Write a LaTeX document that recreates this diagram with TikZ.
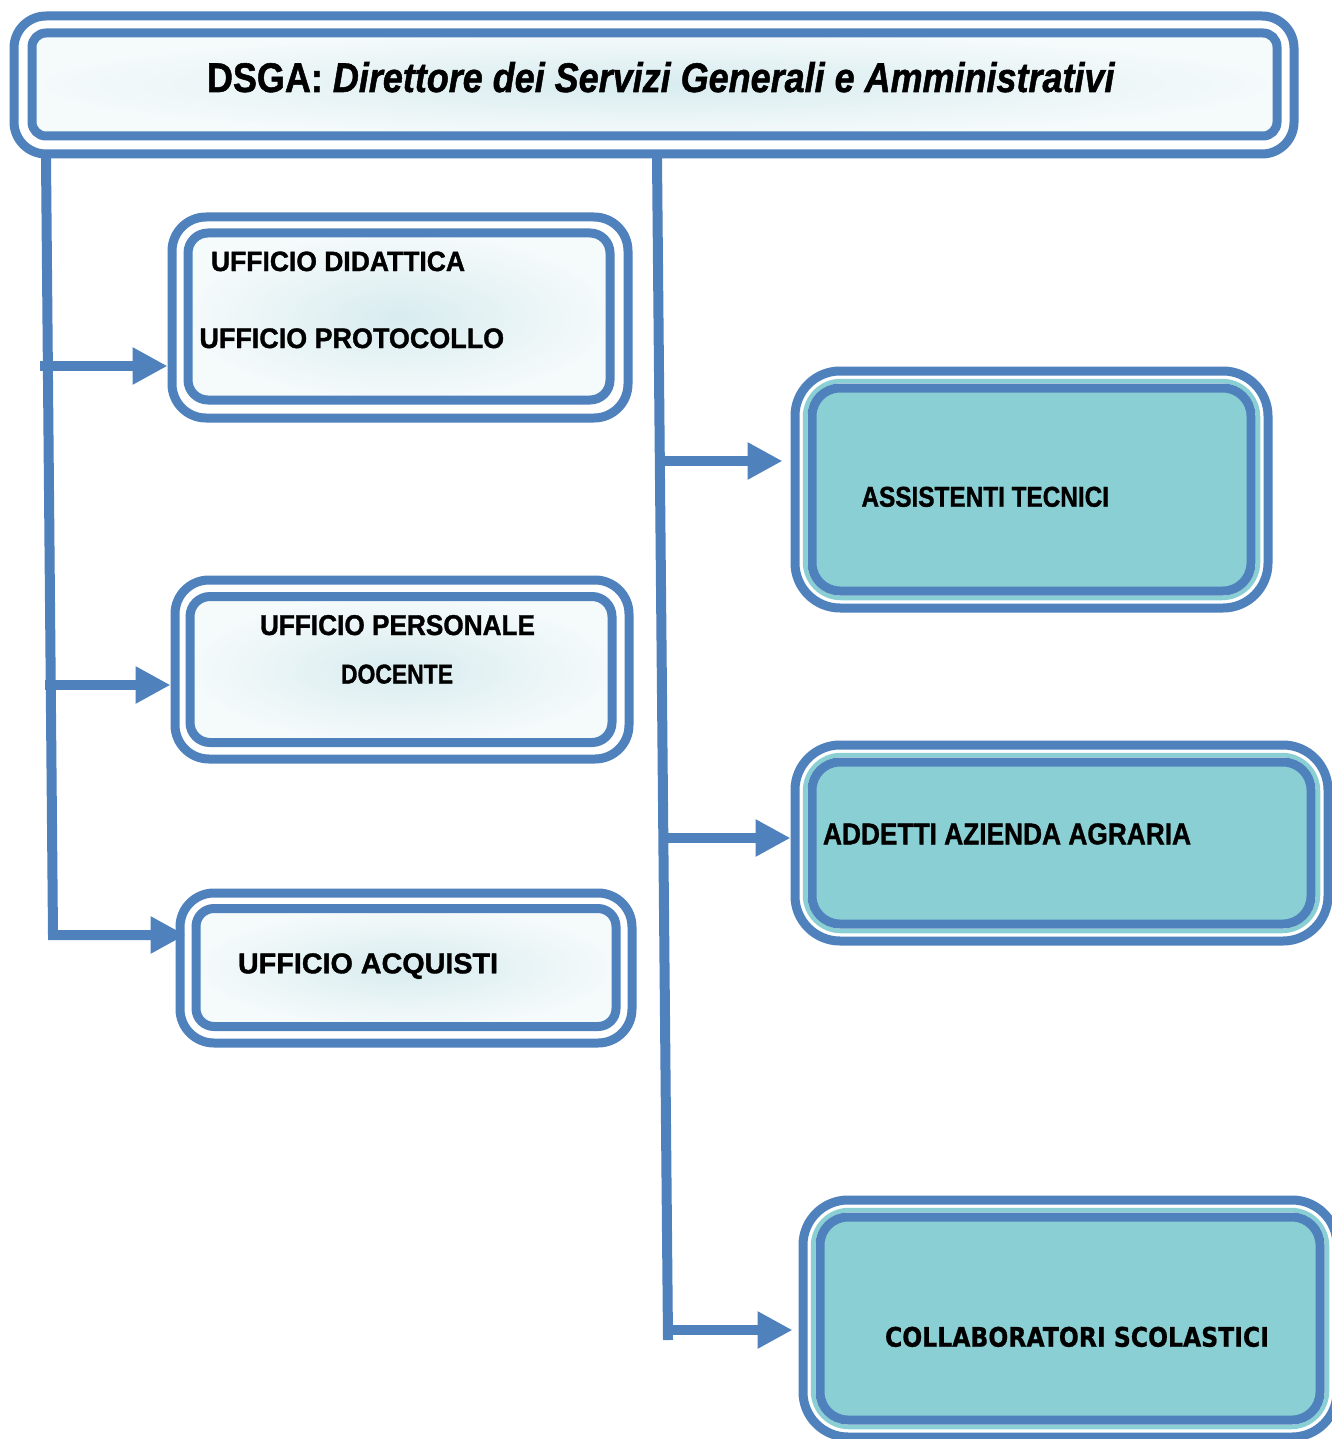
\documentclass[tikz,border=0pt]{standalone}
\usepackage{fontspec}
\setmainfont{Liberation Sans}[BoldFeatures={FakeBold=1.3},BoldItalicFeatures={FakeBold=1.3}]
\newfontfamily\verd{DejaVu Sans}[BoldFeatures={FakeBold=0.8}]
\usetikzlibrary{arrows.meta,calc}
\definecolor{bl}{HTML}{4F81BD}
\definecolor{tl}{HTML}{8ACFD3}
\definecolor{gin}{HTML}{D8ECEF}
\definecolor{gout}{HTML}{F5FAFB}
\tikzset{
  outerbox/.style={draw=bl, line width=9pt, rounded corners=#1, inner sep=0pt},
  innerbox/.style={draw=bl, line width=9pt, rounded corners=#1, inner sep=0pt, inner color=gin, outer color=gout},
  tealbox/.style={draw=bl, line width=9pt, rounded corners=#1, inner sep=0pt, fill=tl},
  tealring/.style={draw=tl, line width=4.5pt, rounded corners=#1, inner sep=0pt},
  lbl/.style={inner sep=0pt, outer sep=0pt, anchor=base west, font=\bfseries},
  ln/.style={draw=bl, line width=10pt},
  arr/.style={draw=bl, line width=10pt, -{Triangle[length=35pt,width=35pt]}}
}
\begin{document}
\begin{tikzpicture}[x=1pt,y=-1pt]
\useasboundingbox[fill=white] (0,0) rectangle (1332,1439);

% top box
\node[outerbox=32, minimum width=1280, minimum height=138] (top) at (654,85) {};
\node[innerbox=14, minimum width=1245, minimum height=103] (topin) at (654.5,84.5) {};
\node[lbl] (ttop) at (207,92) {\resizebox{908pt}{30pt}{DSGA: \textit{Direttore dei Servizi Generali e Amministrativi}}};

% left boxes
\node[outerbox=34, minimum width=456, minimum height=201] (did) at (400,317.5) {};
\node[innerbox=20, minimum width=422, minimum height=167] (didin) at (399,316.5) {};
\node[lbl] (t1) at (211,271) {\resizebox{254pt}{19.5pt}{UFFICIO DIDATTICA}};
\node[lbl] (t2) at (199.5,348) {\resizebox{304.5pt}{19.7pt}{UFFICIO PROTOCOLLO}};

\node[outerbox=34, minimum width=454, minimum height=179] (pers) at (402,669.5) {};
\node[innerbox=20, minimum width=422, minimum height=146] (persin) at (401,669.5) {};
\node[lbl] (t3) at (260,635) {\resizebox{275pt}{20pt}{UFFICIO PERSONALE}};
\node[lbl] (t4) at (341,683.5) {\resizebox{112pt}{19pt}{DOCENTE}};

\node[outerbox=34, minimum width=452, minimum height=150] (acq) at (406,968) {};
\node[innerbox=18, minimum width=420, minimum height=118] (acqin) at (406,967.5) {};
\node[lbl] (t5) at (238,973.3) {\resizebox{260pt}{20pt}{UFFICIO ACQUISTI}};

% right boxes
\node[outerbox=45, minimum width=473, minimum height=237] (ass) at (1031.5,489.5) {};
\node[tealring=36, minimum width=453, minimum height=217] (assring) at (1031.5,489.5) {};
\node[tealbox=28, minimum width=439, minimum height=203] (assin) at (1031.5,489.5) {};
\node[lbl] (t6) at (861.5,506.7) {\resizebox{247.5pt}{20pt}{ASSISTENTI TECNICI}};

\node[outerbox=45, minimum width=533, minimum height=196] (add) at (1061.5,843) {};
\node[tealring=36, minimum width=513, minimum height=176] (addring) at (1061.5,843) {};
\node[tealbox=28, minimum width=499, minimum height=162] (addin) at (1061.5,843) {};
\node[lbl] (t7) at (823,844.3) {\resizebox{368pt}{21pt}{ADDETTI AZIENDA AGRARIA}};

\node[outerbox=45, minimum width=534, minimum height=237] (col) at (1070,1318.5) {};
\node[tealring=36, minimum width=514, minimum height=217] (colring) at (1070,1318.5) {};
\node[tealbox=28, minimum width=500, minimum height=203] (colin) at (1070,1318.5) {};
\node[lbl] (t8) at (885,1346.7) {\resizebox{384pt}{20pt}{\verd\bfseries COLLABORATORI SCOLASTICI}};

% connectors
\coordinate (L0) at (46,158);
\coordinate (L1) at (40,366);
\coordinate (L2) at (45,685);
\coordinate (L3) at (53,935);
\draw[arr, line join=miter] (L0) -- (L3) -- ($(acq.west |- L3)+(10,0)$);
\draw[arr] (L1) -- (L1 -| did.west);
\draw[arr] (L2) -- (L2 -| pers.west);

\coordinate (M0) at (657,158);
\coordinate (M4) at (668,1340);
\coordinate (M1) at (662,461);
\coordinate (M2) at (666,838);
\coordinate (M3) at (668,1330);
\draw[ln] (M0) -- (M4);
\draw[arr] (M1) -- ($(M1 -| ass.west)+(-8,0)$);
\draw[arr] (M2) -- (M2 -| add.west);
\draw[arr] (M3) -- ($(M3 -| col.west)+(-6,0)$);
\end{tikzpicture}
\end{document}
